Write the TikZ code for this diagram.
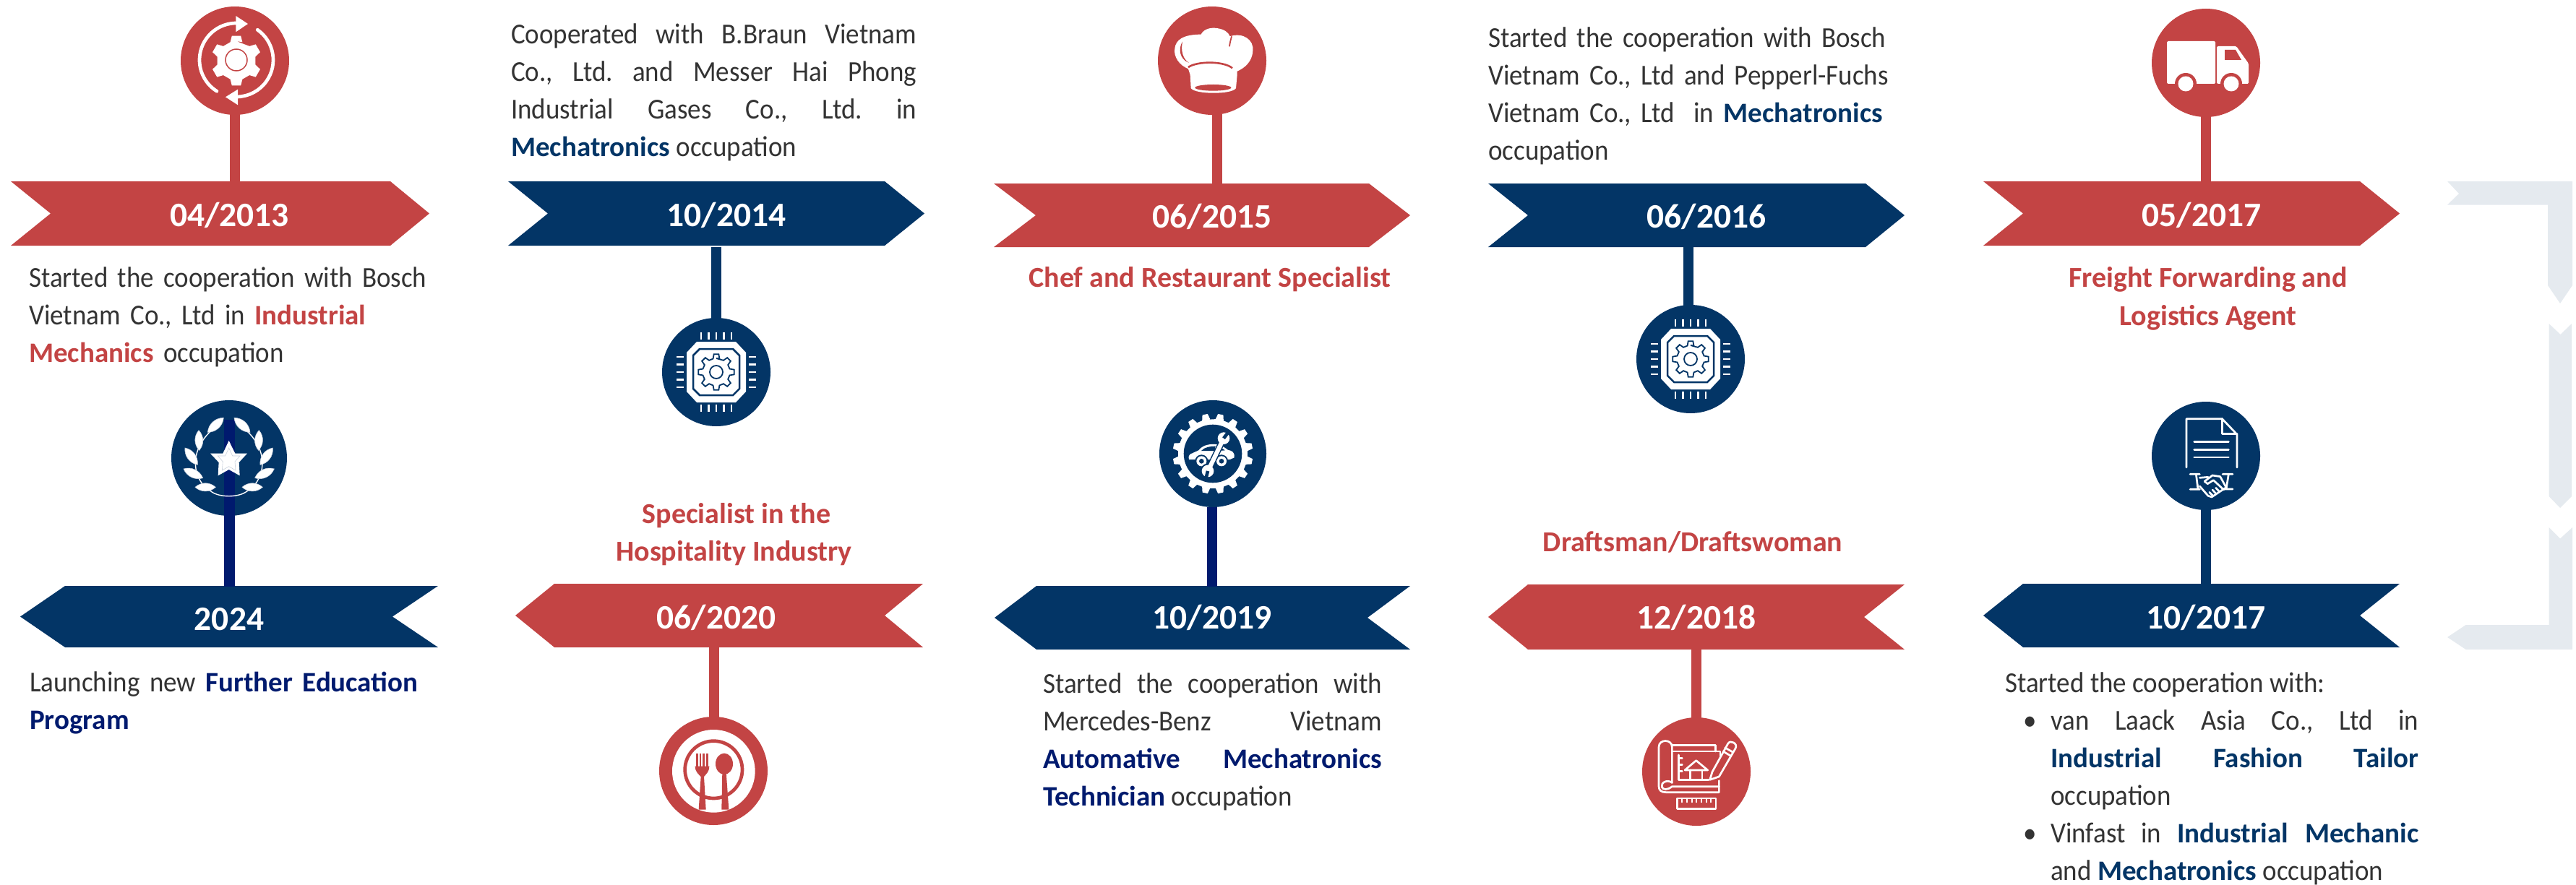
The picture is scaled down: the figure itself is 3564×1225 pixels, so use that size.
\documentclass[tikz,border=0pt]{standalone}
\usepackage{fontspec}
\setmainfont{Carlito}[FakeStretch=0.925,BoldFeatures={FakeStretch=1}]
\usetikzlibrary{shapes.geometric}
\definecolor{rd}{HTML}{C34444}
\definecolor{nv}{HTML}{033566}
\definecolor{dnv}{HTML}{001A6E}
\definecolor{gy}{HTML}{E5EAEF}
\definecolor{tx}{HTML}{333333}
\definecolor{lf}{HTML}{C9D1DD}
\hbadness=10000 \hfuzz=50pt
\frenchspacing
\tikzset{
  x=1pt,y=-1pt,
  para/.style={anchor=north west,inner sep=0pt,align=left,text=tx,font=\fontsize{40}{52}\selectfont\frenchspacing},
  just/.style={para,align=justify},
  head/.style={inner sep=0pt,align=center,text=rd,anchor=base,font=\fontsize{40}{52}\selectfont\bfseries},
  date/.style={inner sep=0pt,text=white,font=\fontsize{47.5}{50}\selectfont\bfseries},
  disc/.style={circle,inner sep=0pt,minimum size=150pt,fill=#1},
  stem/.style={draw=#1,line width=14pt},
  ico/.style={draw=white,line width=2.7pt,line cap=round,line join=round},
  leaf/.style={fill=white,draw=lf,line width=.6pt}
}
\newcommand{\inl}{\fontsize{39}{52}\selectfont\bfseries}
\newcommand{\rr}[1]{\textcolor{rd}{\inl #1}}
\newcommand{\nn}[1]{\textcolor{nv}{\inl #1}}
\newcommand{\dd}[1]{\textcolor{dnv}{\inl #1}}
% right pointing ribbon: colour, left, notch, right top, tip, top, bottom
\newcommand{\ribR}[7]{\fill[#1] (#2,#6) -- (#4,#6) -- (#5,{(#6+#7)/2}) -- (#4,#7) -- (#2,#7) -- (#3,{(#6+#7)/2}) -- cycle;}
% left pointing ribbon: colour, tip, left top, notch, right, top, bottom
\newcommand{\ribL}[7]{\fill[#1] (#2,{(#6+#7)/2}) -- (#3,#6) -- (#5,#6) -- (#4,{(#6+#7)/2}) -- (#5,#7) -- (#3,#7) -- cycle;}
% gear: style, cx, cy, teeth, outer, inner
\newcommand{\gearshape}[6]{\begin{scope}[shift={(#2,#3)},rotate=90]
\pgfmathsetmacro\gs{360/#4}
\path[#1] (0:#6) \foreach \i in {1,...,#4}{ -- ({\i*\gs-0.3*\gs}:#6) -- ({\i*\gs-0.17*\gs}:#5) -- ({\i*\gs+0.17*\gs}:#5) -- ({\i*\gs+0.3*\gs}:#6)} -- cycle;
\end{scope}}
% chip: cx, cy
\newcommand{\chip}[2]{\begin{scope}[shift={(#1,#2)}]
\fill[white] (-27,-42) -- (27,-42) -- (41,-27) -- (41,27) -- (27,42) -- (-27,42) -- (-41,27) -- (-41,-27) -- cycle;
\draw[nv,line width=2.5pt] (-23,-32) -- (23,-32) -- (32,-23) -- (32,23) -- (23,32) -- (-23,32) -- (-32,23) -- (-32,-23) -- cycle;
\foreach \k in {-21,-10.5,0,10.5,21}{
 \draw[white,line width=2.5pt] (\k,-55) -- (\k,-45) (\k,55) -- (\k,45) (-55,\k) -- (-45,\k) (55,\k) -- (45,\k);}
\end{scope}
\gearshape{draw=nv,line width=1.8pt}{#1}{#2}{8}{25}{19}
\draw[nv,line width=1.8pt] (#1,#2) circle (9);}
\newcommand{\lens}[4]{\path[leaf] (#1,#2) to[bend left=42] (#3,#4) to[bend left=42] (#1,#2) -- cycle;}
\newcommand{\laurel}{%
\draw[white,line width=1.4pt] (185,405) .. controls (120,370) and (80,250) .. (190,150);
\lens{120}{388}{205}{388}\lens{72}{312}{152}{350}\lens{78}{225}{130}{295}\lens{135}{152}{137}{235}\lens{172}{160}{238}{100}}
\begin{document}
\begin{tikzpicture}
\useasboundingbox (0,0) rectangle (3564,1225);
% grey return arrow
\fill[gy] (3386,251) -- (3402,268) -- (3386,283.5) -- (3525,283.5) -- (3525,395) -- (3542,420) -- (3559,395) -- (3559,251) -- cycle;
\fill[gy] (3526.5,448) -- (3542.5,463) -- (3558,448) -- (3558,687) -- (3542,703) -- (3526.5,687) -- cycle;
\fill[gy] (3526.5,730) -- (3542,745.5) -- (3559,730) -- (3559,899) -- (3411.5,899) -- (3386,882) -- (3411.5,865) -- (3526.5,865) -- cycle;
% ribbons
\ribR{rd}{15}{70}{540}{594}{251}{340}
\ribR{nv}{703}{758}{1224}{1279}{251}{340}
\ribR{rd}{1375}{1433}{1894}{1951}{254}{342}
\ribR{nv}{2059}{2114}{2581}{2635}{254}{342}
\ribR{rd}{2744}{2799}{3265}{3320}{251}{340}
\ribL{nv}{28}{90}{543}{606}{811}{896}
\ribL{rd}{713}{767}{1224}{1277}{808}{896}
\ribL{nv}{1376}{1434}{1892}{1951}{811}{899}
\ribL{rd}{2059}{2114}{2579}{2635}{809}{899}
\ribL{nv}{2744}{2799}{3265}{3320}{808}{896}
% date labels
\node[date] (d1) at (317.5,298) {04/2013};
\node[date] (d2) at (1005,298) {10/2014};
\node[date] (d3) at (1677,300) {06/2015};
\node[date] (d4) at (2361,300) {06/2016};
\node[date] (d5) at (3046,298) {05/2017};
\node[date] (d6) at (317,857) {2024};
\node[date] (d7) at (991,855) {06/2020};
\node[date] (d8) at (1677,855) {10/2019};
\node[date] (d9) at (2347,855) {12/2018};
\node[date] (d10) at (3052,855) {10/2017};
% discs
\node[disc=rd] (c1) at (325,84) {};
\node[disc=nv] (c2) at (991,515) {};
\node[disc=rd] (c3) at (1677,84) {};
\node[disc=nv] (c4) at (2339,497) {};
\node[disc=rd] (c5) at (3052,87) {};
\node[disc=nv,minimum size=160pt] (c6) at (317,634) {};
\node[disc=rd] (c7) at (987,1067) {};
\node[disc=nv,minimum size=148pt] (c8) at (1678,628) {};
\node[disc=rd] (c9) at (2347,1068) {};
\node[disc=nv] (c10) at (3052,631) {};
% stem end points
\coordinate (a1) at (325,158); \coordinate (b1) at (325,252);
\coordinate (a2) at (991,342); \coordinate (b2) at (991,441);
\coordinate (a3) at (1684,158); \coordinate (b3) at (1684,255);
\coordinate (a4) at (2336,342); \coordinate (b4) at (2336,423);
\coordinate (a5) at (3052,161); \coordinate (b5) at (3052,252);
\coordinate (a6) at (317,581); \coordinate (b6) at (317,812);
\coordinate (a7) at (988,896); \coordinate (b7) at (988,993);
\coordinate (a8) at (1677,702); \coordinate (b8) at (1677,812);
\coordinate (a9) at (2347,899); \coordinate (b9) at (2347,994);
\coordinate (a10) at (3052,705); \coordinate (b10) at (3052,809);
\draw[stem=rd] (a1) -- (b1);
\draw[stem=nv] (a2) -- (b2);
\draw[stem=rd] (a3) -- (b3);
\draw[stem=nv] (a4) -- (b4);
\draw[stem=rd] (a5) -- (b5);
\draw[stem=dnv,line width=15pt] (a6) -- (b6);
\draw[stem=rd] (a7) -- (b7);
\draw[stem=dnv] (a8) -- (b8);
\draw[stem=rd] (a9) -- (b9);
\draw[stem=nv] (a10) -- (b10);
% texts
\node[para,text width=620pt] (t1) at (40,397-36.4) {\strut Started the cooperation with Bosch\\Vietnam Co., Ltd in \rr{Industrial}\\\rr{Mechanics} occupation};
\node[just,text width=561pt] (t2) at (707,60-36.4) {\strut Cooperated with B.Braun Vietnam\linebreak Co., Ltd. and Messer Hai Phong\linebreak Industrial Gases Co., Ltd. in\linebreak \nn{Mechatronics} occupation};
\node[head] (t3) at (1674,397) {Chef and Restaurant Specialist};
\node[para,text width=620pt] (t4) at (2059,65-36.4) {\strut Started the cooperation with Bosch\\Vietnam Co., Ltd and Pepperl-Fuchs\\Vietnam Co., Ltd\ \ in \nn{Mechatronics}\\occupation};
\node[head] (t5a) at (3055,397) {Freight Forwarding and};
\node[head] (t5b) at (3055,450) {Logistics Agent};
\node[para,text width=620pt] (t6) at (41,957.5-36.4) {\strut Launching new \dd{Further Education}\\\dd{Program}};
\node[head] (t7a) at (1019,724) {Specialist in the};
\node[head] (t7b) at (1015.5,776.6) {Hospitality Industry};
\node[just,text width=469pt] (t8) at (1443,959-36.4) {\strut Started the cooperation with\linebreak Mercedes-Benz\hfill Vietnam\linebreak \dd{Automative Mechatronics}\linebreak \dd{Technician} occupation};
\node[head] (t9) at (2342,763) {Draftsman/Draftswoman};
\node[just,text width=572pt] (t10) at (2774,958-36.4) {\strut Started the cooperation with:\par
\hangindent=63pt\hangafter=0\leavevmode\llap{\textbullet\hspace{19pt}}van Laack Asia Co., Ltd in\linebreak \nn{Industrial Fashion Tailor}\linebreak occupation\par
\hangindent=63pt\hangafter=0\leavevmode\llap{\textbullet\hspace{19pt}}Vinfast in \nn{Industrial Mechanic}\linebreak and \nn{Mechatronics} occupation\par};
% icon 1: gear and arrows
\draw[white,line width=4.7pt,line cap=round] (327,83) ++(-88:51) arc (-88:-238:51);
\draw[white,line width=4.7pt,line cap=round] (327,83) ++(-55:51) arc (-55:88:51);
\fill[white] (343,33) -- (326.3,22) -- (326.3,44.3) -- cycle;
\fill[white] (312,134.3) -- (329,123.7) -- (329,145.3) -- cycle;
\gearshape{fill=white}{327}{84}{6}{35}{27}
\draw[rd,line width=1.5pt] (327,83) circle (15);
% icon 2, 4: chips
\chip{991}{515}
\chip{2339}{497}
% icon 3: chef hat
\begin{scope}[shift={(1600,7)},scale=1/3]
\fill[white] (132,265) .. controls (95,250) and (70,215) .. (76,180) .. controls (80,145) and (110,122) .. (185,122) .. controls (195,100) and (225,92) .. (250,96) .. controls (280,100) and (298,112) .. (305,130) .. controls (360,112) and (405,145) .. (400,190) .. controls (398,235) and (365,262) .. (335,275) -- (335,290) -- (330,345) .. controls (315,372) and (160,372) .. (143,345) -- (140,290) -- cycle;
\draw[rd,line width=2.6pt] (132,258) .. controls (170,232) and (280,232) .. (315,262);
\fill[rd] (108,152) .. controls (90,180) and (95,225) .. (135,240) .. controls (110,225) and (100,190) .. (108,152) -- cycle;
\draw[rd,line width=1.8pt] (312,130) .. controls (308,145) and (304,160) .. (303,172);
\fill[rd] (235,343) ellipse (75 and 13);
\end{scope}
% icon 5: truck
\fill[white,rounded corners=1.5pt] (2998,57) rectangle (3065,116);
\fill[white,rounded corners=1.5pt] (3067,64) -- (3094,64) -- (3111,88) -- (3111,116) -- (3067,116) -- cycle;
\fill[rd] (3078,69) -- (3093,69) -- (3101,83) -- (3078,83) -- cycle;
\fill[rd] (3024,116) circle (15);
\fill[rd] (3087,116) circle (15);
\fill[white] (3024,116) circle (10.5);
\fill[white] (3087,116) circle (10.5);
% icon 6: star and laurel
\begin{scope}[shift={(230,545)},scale=1/3]
\draw[white,line width=1.4pt] (185,405) .. controls (220,432) and (300,432) .. (335,405);
\laurel
\begin{scope}[shift={(520,0)},xscale=-1]\laurel\end{scope}
\fill[white] (260,195) -- (286,248) -- (336,248) -- (302,285) -- (305,340) -- (260,315) -- (215,340) -- (218,285) -- (183,248) -- (235,248) -- cycle;
\draw[lf,line width=.6pt] (260,225) -- (275,258) -- (306,258) -- (285,282) -- (288,318) -- (260,302) -- (232,318) -- (235,282) -- (214,258) -- (245,258) -- cycle;
\end{scope}
% icon 7: plate and cutlery
\begin{scope}[shift={(910,990)},scale=1/3]
\fill[white] (232,232) circle (172);
\draw[rd,line width=4.7pt] (232,226) circle (119);
\foreach \k in {163,177,191,205}{\draw[rd,line width=2.6pt] (\k,160) -- (\k,220);}
\fill[rd] (155,212) -- (214,212) .. controls (214,235) and (200,245) .. (192,255) -- (200,392) -- (170,392) -- (179,255) .. controls (170,245) and (155,235) .. (155,212) -- cycle;
\fill[rd] (276,202) ellipse (36 and 44);
\fill[rd] (268,236) -- (284,236) -- (295,392) -- (265,392) -- cycle;
\end{scope}
% icon 8: car gear
\begin{scope}[rotate around={11.25:(1678,628)}]
\gearshape{fill=white}{1678}{628}{16}{55.5}{48}
\end{scope}
\fill[nv] (1678,628) circle (40.3);
\begin{scope}[shift={(1600,550)},scale=1/3]
\fill[white] (135,258) .. controls (132,245) and (135,240) .. (140,236) -- (175,220) .. controls (190,200) and (215,193) .. (245,195) .. controls (270,197) and (285,210) .. (296,218) .. controls (315,222) and (325,228) .. (323,250) -- (305,258) -- cycle;
\fill[nv] (186,222) .. controls (200,206) and (225,203) .. (245,203) -- (242,222) -- cycle;
\fill[nv] (262,206) -- (285,220) -- (258,222) -- cycle;
\foreach \wx in {187,270}{
 \fill[nv] (\wx,265) circle (27);
 \fill[white] (\wx,265) circle (21);
 \fill[nv] (\wx,265) circle (10);}
\draw[nv,line width=9pt] (278,172) -- (215,303);
\fill[nv] (279,170) circle (31); \fill[nv] (213,306) circle (31);
\draw[white,line width=6pt] (278,172) -- (215,303);
\fill[white] (279,170) circle (25); \fill[white] (213,306) circle (25);
\draw[nv,line width=4.6pt] (279,170) -- (300,142);
\draw[nv,line width=4.6pt] (213,306) -- (205,338);
\end{scope}
% icon 9: blueprint
\begin{scope}[shift={(2270,990)},scale=1/3,ico]
\draw (130,280) -- (130,132) .. controls (130,98) and (75,98) .. (75,132) -- (75,295) .. controls (75,312) and (85,320) .. (105,320) -- (325,320) -- (325,272);
\draw (130,280) .. controls (110,265) and (82,280) .. (88,298) .. controls (92,310) and (110,312) .. (130,296) -- (135,296) -- (325,296);
\draw (130,125) -- (310,125) -- (310,150);
\draw (132,150) -- (330,150) -- (330,168);
\draw (158,165) -- (158,268) -- (282,268);
\draw (158,178) -- (172,178) (158,205) -- (172,205) (158,232) -- (172,232);
\draw (183,228) -- (230,188) -- (278,228) -- cycle;
\draw (205,228) -- (205,268) (255,228) -- (255,268);
\draw (287,268) -- (297,235) -- (362,118) .. controls (372,100) and (405,118) .. (393,138) -- (325,255) -- cycle;
\draw (350,135) -- (382,153) (342,150) -- (372,168);
\draw (152,345) rectangle (312,388);
\foreach \k in {172,192,212,232,252,272,292}{\draw[line width=2.2pt] (\k,345) -- (\k,361);}
\end{scope}
% icon 10: contract and handshake
\begin{scope}[shift={(2975,553)},scale=1/3,ico]
\draw (150,282) -- (150,80) -- (298,80) -- (360,145) -- (360,282);
\draw (298,80) -- (298,142) -- (360,142);
\draw (182,176) -- (325,176) (182,208) -- (325,208) (182,240) -- (325,240);
\draw (165,310) -- (205,310) (190,310) -- (198,373) (165,373) -- (205,373);
\draw (300,310) -- (342,310) (325,310) -- (315,372) (305,372) -- (342,372);
\draw (205,325) -- (240,322);
\draw (225,340) -- (258,315) -- (290,320) -- (315,365) -- (255,405) -- (240,400) -- (205,360);
\draw (225,340) -- (238,350) -- (262,335) -- (305,375);
\draw (245,385) -- (258,398) (258,375) -- (272,390) (272,367) -- (286,382);
\end{scope}
\end{tikzpicture}
\end{document}
